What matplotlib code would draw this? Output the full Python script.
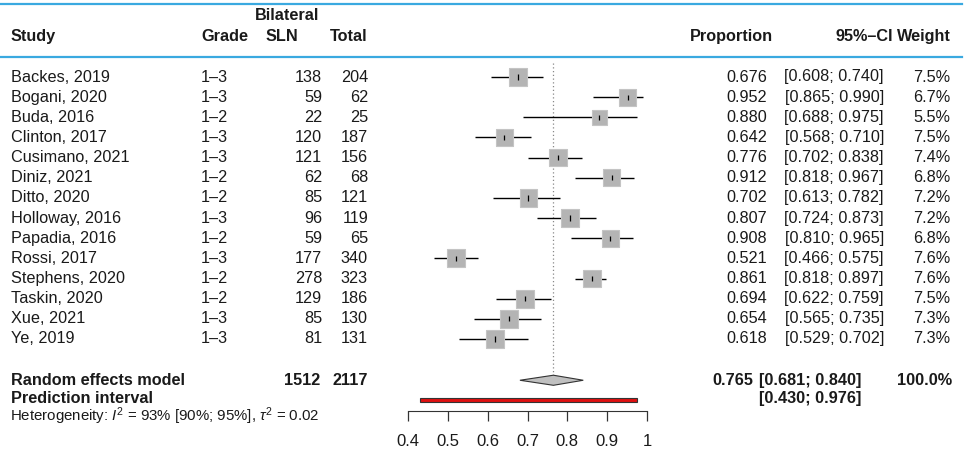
import numpy as np
import matplotlib
matplotlib.use('Agg')
import matplotlib.pyplot as plt
from matplotlib.lines import Line2D
from matplotlib.patches import Polygon, Rectangle
from matplotlib.transforms import blended_transform_factory

plt.rcParams['font.family'] = ['Liberation Sans', 'DejaVu Sans']
plt.rcParams['mathtext.fontset'] = 'custom'
plt.rcParams['mathtext.rm'] = 'Liberation Sans'
plt.rcParams['mathtext.it'] = 'Liberation Sans:italic'

# Данные
studies = ['Backes, 2019', 'Bogani, 2020', 'Buda, 2016', 'Clinton, 2017', 'Cusimano, 2021',
           'Diniz, 2021', 'Ditto, 2020', 'Holloway, 2016', 'Papadia, 2016', 'Rossi, 2017',
           'Stephens, 2020', 'Taskin, 2020', 'Xue, 2021', 'Ye, 2019']
grade = ['1–3', '1–3', '1–2', '1–3', '1–3', '1–2', '1–2', '1–3', '1–2', '1–3',
         '1–2', '1–2', '1–3', '1–3']
events = [138, 59, 22, 120, 121, 62, 85, 96, 59, 177, 278, 129, 85, 81]
totals = [204, 62, 25, 187, 156, 68, 121, 119, 65, 340, 323, 186, 130, 131]
prop = [0.676, 0.952, 0.880, 0.642, 0.776, 0.912, 0.702, 0.807, 0.908, 0.521,
        0.861, 0.694, 0.654, 0.618]
ci_lo = [0.608, 0.865, 0.688, 0.568, 0.702, 0.818, 0.613, 0.724, 0.810, 0.466,
         0.818, 0.622, 0.565, 0.529]
ci_hi = [0.740, 0.990, 0.975, 0.710, 0.838, 0.967, 0.782, 0.873, 0.965, 0.575,
         0.897, 0.759, 0.735, 0.702]
weights = [7.5, 6.7, 5.5, 7.5, 7.4, 6.8, 7.2, 7.2, 6.8, 7.6, 7.6, 7.5, 7.3, 7.3]

re_events, re_total = 1512, 2117
re_est, re_lo, re_hi = 0.765, 0.681, 0.840
pi_lo, pi_hi = 0.430, 0.976
x_ticks = [0.4, 0.5, 0.6, 0.7, 0.8, 0.9, 1.0]
x_ticklabels = ['0.4', '0.5', '0.6', '0.7', '0.8', '0.9', '1']

W, H = 973, 454
fig = plt.figure(figsize=(W / 100, H / 100), dpi=100)
ax = fig.add_axes([0, 0, 1, 1])

# масштаб: 0.4 -> 408 px, 1 -> 647 px; строки по 20.15 px, первая на 77 px
px_per_unit = (647 - 408) / 0.6
ax.set_xlim(0.4 - 408 / px_per_unit, 0.4 + (W - 408) / px_per_unit)
row_h, row0 = 20.15, 77
ax.set_ylim((H - row0) / row_h, -row0 / row_h)
for s in ['top', 'left', 'right']:
    ax.spines[s].set_visible(False)

tr = blended_transform_factory(fig.transFigure, ax.transData)
fx = lambda px: px / W
txt = '#1a1a1a'
fs = 11.7

y = np.arange(len(studies))
y_re, y_pi, y_het = 15.05, 15.95, 16.85
y_bar = 16.05
y_axis = (411 - row0) / row_h

# синие линии шапки
for yy in [-3.62, -0.99]:
    fig.add_artist(Line2D([0, fx(962)], [yy, yy], transform=tr, color='#3aa9e0', lw=1.6))

# шапка
ax.text(fx(11), -1.99, 'Study', transform=tr, ha='left', va='center', fontsize=fs, fontweight='bold', color=txt)
ax.text(fx(201), -1.99, 'Grade', transform=tr, ha='left', va='center', fontsize=fs, fontweight='bold', color=txt)
ax.text(fx(319), -3.03, 'Bilateral', transform=tr, ha='right', va='center', fontsize=fs, fontweight='bold', color=txt)
ax.text(fx(298), -1.99, 'SLN', transform=tr, ha='right', va='center', fontsize=fs, fontweight='bold', color=txt)
ax.text(fx(368), -1.99, 'Total', transform=tr, ha='right', va='center', fontsize=fs, fontweight='bold', color=txt)
ax.text(fx(773), -1.99, 'Proportion', transform=tr, ha='right', va='center', fontsize=fs, fontweight='bold', color=txt)
ax.text(fx(893), -1.99, '95%–CI', transform=tr, ha='right', va='center', fontsize=fs, fontweight='bold', color=txt)
ax.text(fx(951), -1.99, 'Weight', transform=tr, ha='right', va='center', fontsize=fs, fontweight='bold', color=txt)

# строки исследований
for i in range(len(studies)):
    ax.text(fx(11), y[i], studies[i], transform=tr, ha='left', va='center', fontsize=fs, color=txt)
    ax.text(fx(201), y[i], grade[i], transform=tr, ha='left', va='center', fontsize=fs, color=txt)
    ax.text(fx(322), y[i], str(events[i]), transform=tr, ha='right', va='center', fontsize=fs, color=txt)
    ax.text(fx(368), y[i], str(totals[i]), transform=tr, ha='right', va='center', fontsize=fs, color=txt)
    ax.text(fx(767), y[i], f'{prop[i]:.3f}', transform=tr, ha='right', va='center', fontsize=fs, color=txt)
    ax.text(fx(884), y[i], f'[{ci_lo[i]:.3f}; {ci_hi[i]:.3f}]', transform=tr, ha='right', va='center',
            fontsize=fs, color=txt)
    ax.text(fx(950), y[i], f'{weights[i]:.1f}%', transform=tr, ha='right', va='center', fontsize=fs, color=txt)

# forest: ДИ, квадраты, метки оценки
ax.hlines(y, ci_lo, ci_hi, color='black', lw=1, zorder=2)
side_pt = 12.8 * np.sqrt(np.array(weights) / 7.5)
ax.scatter(prop, y, s=side_pt ** 2, marker='s', color='#b4b4b4', edgecolors='#c4c4c4',
           linewidths=0.8, zorder=3)
ax.vlines(prop, y - 0.13, y + 0.13, color='black', lw=0.9, zorder=4)

# вертикальная линия оценки
ax.vlines(re_est, -0.69, y_re - 0.25, color='#888888', lw=0.9, linestyles=(0, (1, 2)), zorder=1)

# ромб модели
diamond = Polygon([[re_lo, y_re], [re_est, y_re - 0.25], [re_hi, y_re], [re_est, y_re + 0.25]],
                  closed=True, facecolor='#c0c0c0', edgecolor='#333333', lw=0.8, zorder=3)
ax.add_patch(diamond)

# интервал прогноза
ax.add_patch(Rectangle((pi_lo, y_bar - 0.1), pi_hi - pi_lo, 0.2, facecolor='#e01010',
                       edgecolor='#333333', lw=0.8, zorder=3))

# итоговые строки
ax.text(fx(11), y_re, 'Random effects model', transform=tr, ha='left', va='center', fontsize=fs,
        fontweight='bold', color=txt)
ax.text(fx(320), y_re, str(re_events), transform=tr, ha='right', va='center', fontsize=fs,
        fontweight='bold', color=txt)
ax.text(fx(368), y_re, str(re_total), transform=tr, ha='right', va='center', fontsize=fs,
        fontweight='bold', color=txt)
ax.text(fx(753), y_re, f'{re_est:.3f}', transform=tr, ha='right', va='center', fontsize=fs,
        fontweight='bold', color=txt)
ax.text(fx(759), y_re, f'[{re_lo:.3f}; {re_hi:.3f}]', transform=tr, ha='left', va='center', fontsize=fs,
        fontweight='bold', color=txt)
ax.text(fx(952), y_re, '100.0%', transform=tr, ha='right', va='center', fontsize=fs,
        fontweight='bold', color=txt)
ax.text(fx(11), y_pi, 'Prediction interval', transform=tr, ha='left', va='center', fontsize=fs,
        fontweight='bold', color=txt)
ax.text(fx(759), y_pi, f'[{pi_lo:.3f}; {pi_hi:.3f}]', transform=tr, ha='left', va='center', fontsize=fs,
        fontweight='bold', color=txt)
ax.text(fx(10), y_het, r'Heterogeneity: $I^2$ = 93% [90%; 95%], $\tau^2$ = 0.02', transform=tr,
        ha='left', va='center', fontsize=10.8, color=txt)

# ось X
ax.spines['bottom'].set_position(('data', y_axis))
ax.spines['bottom'].set_bounds(0.4, 1.0)
ax.spines['bottom'].set_color('#333333')
ax.set_xticks(x_ticks)
ax.set_xticklabels(x_ticklabels)
ax.tick_params(axis='x', direction='out', length=7.2, width=0.9, color='#333333',
               labelsize=12, labelcolor=txt, pad=9.5)
ax.set_yticks([])

fig.savefig('out.png', dpi=100)
